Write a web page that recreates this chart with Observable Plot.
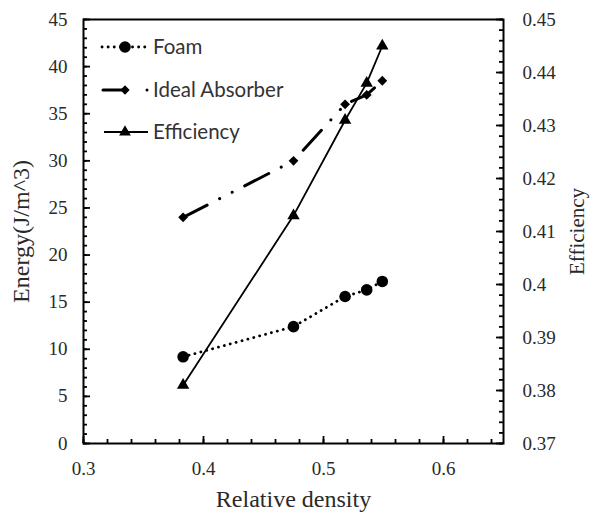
<!DOCTYPE html>
<html>
<head>
<meta charset="utf-8">
<script src="https://cdn.jsdelivr.net/npm/d3@7"></script>
<script src="https://cdn.jsdelivr.net/npm/@observablehq/plot@0.6"></script>
<style>
  body { margin: 0; background: #fff; }
  #wrap { position: relative; width: 595px; height: 518px; }
  #legend { position: absolute; left: 0; top: 0; }
  #wrap svg text { font-family: "Liberation Serif", serif !important; }
  #wrap #legend text { font-family: Lato, "Open Sans", sans-serif !important; }
</style>
</head>
<body>
<div id="wrap"></div>
<script>
// ---- data ----
const density = [0.383, 0.475, 0.518, 0.536, 0.549];
const foam = [9.2, 12.4, 15.6, 16.3, 17.2];
const idealAbsorber = [24.0, 30.0, 36.0, 37.0, 38.5];
const efficiency = [0.381, 0.413, 0.431, 0.438, 0.445];

const xTicks = [0.3, 0.4, 0.5, 0.6];
const energyTicks = [0, 5, 10, 15, 20, 25, 30, 35, 40, 45];
const effTicks = [0.37, 0.38, 0.39, 0.40, 0.41, 0.42, 0.43, 0.44, 0.45];
const seriesNames = ["Foam", "Ideal Absorber", "Efficiency"];
const xTitle = "Relative density";

// efficiency (right axis) mapped onto the energy (left) scale
const effMin = 0.37, effMax = 0.45, eMin = 0, eMax = 45;
const toE = v => eMin + (v - effMin) / (effMax - effMin) * (eMax - eMin);
const fromE = d => effMin + (d - eMin) / (eMax - eMin) * (effMax - effMin);

const foamRows = density.map((x, i) => ({x, y: foam[i]}));
const idealRows = density.map((x, i) => ({x, y: idealAbsorber[i]}));
const effRows = density.map((x, i) => ({x, y: toE(efficiency[i])}));

const xMinor = d3.range(0, 18).map(i => +(0.3 + i * 0.02).toFixed(2));
const yMinor = d3.range(0, 46);
const effMinor = d3.range(0, 41).map(i => toE(0.37 + i * 0.002));

const W = 595, H = 518, ML = 83, MR = 92, MT = 19, MB = 75;
const innerW = W - ML - MR, innerH = H - MT - MB;
const ink = "#000";
const textCol = "#2a2a2a";
const serif = "Liberation Serif";
const MAJ = 7, MIN = 4;
const tk = {stroke: ink, strokeWidth: 1.8};

const chart = Plot.plot({
  width: W, height: H,
  marginLeft: ML, marginRight: MR, marginTop: MT, marginBottom: MB,
  style: {background: "#fff"},
  x: {domain: [0.3, 0.65], axis: null},
  y: {domain: [0, 45], axis: null},
  marks: [
    // inward ticks: bottom, left, right
    Plot.ruleX(xMinor, {x: d => d, insetTop: innerH - MIN, ...tk}),
    Plot.ruleX(xTicks, {x: d => d, insetTop: innerH - MAJ, ...tk}),
    Plot.ruleY(yMinor, {y: d => d, insetRight: innerW - MIN, ...tk}),
    Plot.ruleY(energyTicks, {y: d => d, insetRight: innerW - MAJ, ...tk}),
    Plot.ruleY(effMinor, {y: d => d, insetLeft: innerW - MIN, ...tk}),
    Plot.ruleY(effTicks, {y: d => toE(d), insetLeft: innerW - MAJ, ...tk}),
    // tick labels
    Plot.axisX({ticks: xTicks, tickSize: 0, tickPadding: 18, fontSize: 19, fontFamily: serif, fill: textCol,
      tickFormat: d => String(d), label: null}),
    Plot.axisY({ticks: energyTicks, tickSize: 0, tickPadding: 16, fontSize: 19, fontFamily: serif, fill: textCol,
      tickFormat: d => String(d), label: null}),
    Plot.axisY({anchor: "right", ticks: effTicks.map(toE), tickSize: 0, tickPadding: 19, fontSize: 19, fontFamily: serif,
      fill: textCol, textAnchor: "start", tickFormat: d => String(+fromE(d).toFixed(2)), label: null}),
    // axis titles
    Plot.text([xTitle], {text: d => d, frameAnchor: "bottom", dy: 63, fontFamily: serif, fontSize: 24, fill: textCol}),
    Plot.axisY({ticks: [], tickSize: 0, label: "Energy(J/m^3)", labelAnchor: "center", labelArrow: "none",
      labelOffset: 72, fontSize: 24, fontFamily: serif, fill: textCol}),
    Plot.axisY({anchor: "right", ticks: [], tickSize: 0, label: "Efficiency", labelAnchor: "center", labelArrow: "none",
      labelOffset: 80, fontSize: 21, fontFamily: serif, fill: textCol}),
    // series
    Plot.line(foamRows, {x: "x", y: "y", stroke: ink, strokeWidth: 2.8, strokeDasharray: "0.1,6", strokeLinecap: "round"}),
    Plot.dot(foamRows, {x: "x", y: "y", r: 5.8, fill: ink, symbol: "circle"}),
    Plot.line(idealRows, {x: "x", y: "y", stroke: ink, strokeWidth: 3, strokeDasharray: "27,14,0.1,14,0.1,14", strokeLinecap: "round"}),
    Plot.dot(idealRows, {x: "x", y: "y", r: 4.4, fill: ink, symbol: "diamond2"}),
    Plot.line(effRows, {x: "x", y: "y", stroke: ink, strokeWidth: 1.8}),
    Plot.dot(effRows, {x: "x", y: "y", r: 4.6, fill: ink, symbol: "triangle"}),
    Plot.frame({stroke: ink, strokeWidth: 2})
  ]
});

const wrap = document.getElementById("wrap");
wrap.appendChild(chart);

// legend overlay (inside plot area, top-left)
const lg = d3.select(wrap).append("svg").attr("id", "legend").attr("width", 320).attr("height", 160);
const rowsY = [47, 90, 132];
// Foam
lg.append("line").attr("x1", 102).attr("x2", 146).attr("y1", rowsY[0]).attr("y2", rowsY[0])
  .attr("stroke", ink).attr("stroke-width", 2.8).attr("stroke-dasharray", "0.1,6").attr("stroke-linecap", "round");
lg.append("circle").attr("cx", 125).attr("cy", rowsY[0]).attr("r", 5.8).attr("fill", ink);
// Ideal absorber
lg.append("line").attr("x1", 103).attr("x2", 125).attr("y1", rowsY[1]).attr("y2", rowsY[1])
  .attr("stroke", ink).attr("stroke-width", 3).attr("stroke-linecap", "round");
lg.append("path").attr("d", d3.symbol(d3.symbolDiamond2, 55)()).attr("transform", `translate(125,${rowsY[1]})`).attr("fill", ink);
lg.append("circle").attr("cx", 147).attr("cy", rowsY[1]).attr("r", 1.5).attr("fill", ink);
// Efficiency
lg.append("line").attr("x1", 104).attr("x2", 148).attr("y1", rowsY[2]).attr("y2", rowsY[2])
  .attr("stroke", ink).attr("stroke-width", 1.8);
lg.append("path").attr("d", d3.symbol(d3.symbolTriangle, 60)()).attr("transform", `translate(125,${rowsY[2]})`).attr("fill", ink);
seriesNames.forEach((name, i) => {
  lg.append("text").attr("x", 153).attr("y", rowsY[i] + 7).attr("font-size", 20.5).attr("fill", "#333").text(name);
});
</script>
</body>
</html>
